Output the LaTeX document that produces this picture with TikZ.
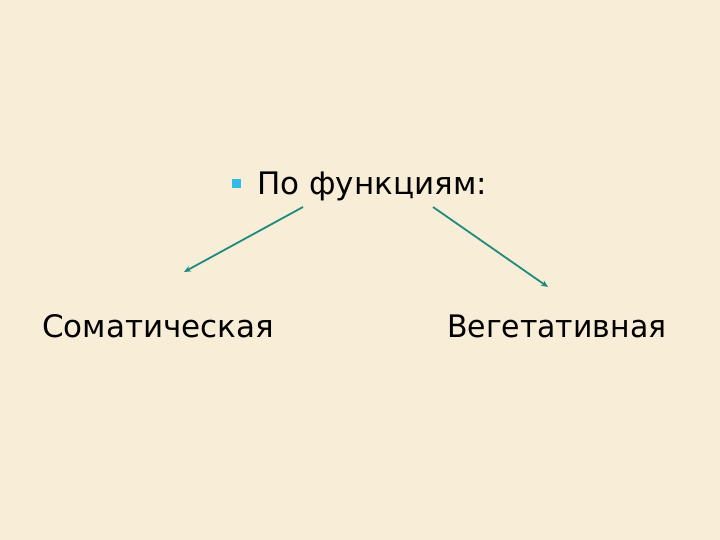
\documentclass[tikz,border=0pt]{standalone}
\usepackage{fontspec}
\setmainfont{DejaVu Sans}
\usetikzlibrary{arrows.meta}
\definecolor{bg}{HTML}{F8EDD6}
\definecolor{teal}{HTML}{1E8C7C}
\definecolor{bul}{HTML}{33BBE8}
\tikzset{
  lbl/.style={anchor=base west, inner sep=0pt, font=\fontsize{31}{36}\selectfont, text=black},
  conn/.style={draw=teal, line width=1.8pt, -{Stealth[length=7pt,width=6pt]}}
}
\begin{document}
\begin{tikzpicture}[x=1pt,y=1pt]
\useasboundingbox (0,0) rectangle (720,540);
\fill[bg] (0,0) rectangle (720,540);
\fill[bul] (232,352) rectangle (241,361) coordinate (bullet);
\node[lbl] (top) at (257,345) {По функциям:};
\node[lbl] (som) at (42,202) {Соматическая};
\node[lbl, xscale=0.965, transform shape] (veg) at (447,202) {Вегетативная};
\coordinate (s1) at (303,333);
\coordinate (e1) at (184,268);
\coordinate (s2) at (433,333);
\coordinate (e2) at (548,253);
\draw[conn] (s1) -- (e1);
\draw[conn] (s2) -- (e2);
\end{tikzpicture}
\end{document}
